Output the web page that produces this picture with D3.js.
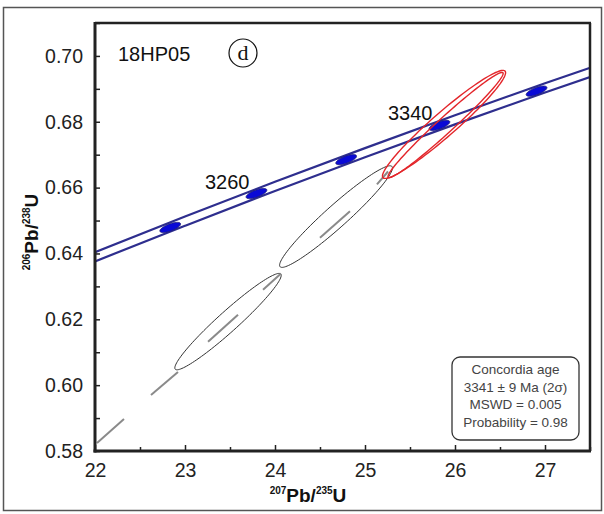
<!DOCTYPE html>
<html><head><meta charset="utf-8">
<script src="https://cdn.jsdelivr.net/npm/d3@7/dist/d3.min.js"></script>
<style>
html,body{margin:0;padding:0;background:#fff;}
svg{display:block;font-family:"Liberation Sans",Arial,sans-serif;}
</style></head>
<body>
<svg id="c" width="604" height="514"></svg>
<script>
// ---- data ----
const xTicks = [22, 23, 24, 25, 26, 27];
const yTicks = [0.58, 0.60, 0.62, 0.64, 0.66, 0.68, 0.70];
const bandX = [22, 23, 24, 25, 26, 27, 27.5];
const bandUpper = [0.6404, 0.6512, 0.6618, 0.6720, 0.6820, 0.6917, 0.6964];
const bandLower = [0.6376, 0.6484, 0.6590, 0.6692, 0.6792, 0.6889, 0.6936];
const markerAge = [3220, 3260, 3300, 3340, 3380];
const markerX = [22.836, 23.794, 24.791, 25.827, 26.906];
const markerY = [0.6479, 0.6582, 0.6685, 0.6789, 0.6893];
const markerErr = {hx: 0.115, hy: 0.00154, rho: 0.68};
const labelAges = [3260, 3340];
// data ellipses: center x, center y, half-extent x, half-extent y, correlation
const grayEllipses = [
  {x: 23.478, y: 0.6193, hx: 0.591, hy: 0.01464, rho: 0.960},
  {x: 24.678, y: 0.6512, hx: 0.627, hy: 0.01543, rho: 0.957}
];
const redEllipses = [
  {x: 25.878, y: 0.6792, hx: 0.684, hy: 0.01641, rho: 0.957},
  {x: 25.895, y: 0.6790, hx: 0.640, hy: 0.01600, rho: 0.980}
];
// gray reference segments [x1, y1, x2, y2]
const graySegments = [
  [22.022, 0.5824, 22.322, 0.5897],
  [22.622, 0.5970, 22.922, 0.6040],
  [23.256, 0.6132, 23.589, 0.6214],
  [23.867, 0.6290, 24.067, 0.6339],
  [24.500, 0.6448, 24.833, 0.6528],
  [25.133, 0.6610, 25.256, 0.6649]
];
const sampleName = "18HP05";
const panelTag = "d";
const legendLines = ["Concordia age", "3341 ± 9 Ma (2σ)", "MSWD = 0.005", "Probability = 0.98"];

// ---- layout ----
const svg = d3.select("#c");
const L = 95, R = 590, T = 23, B = 451;
const x = d3.scaleLinear().domain([22, 27.5]).range([L, R]);
const y = d3.scaleLinear().domain([0.58, 0.71]).range([B, T]);

// outer frame
svg.append("rect").attr("x", 3.5).attr("y", 7.5).attr("width", 598).attr("height", 503)
  .attr("fill", "none").attr("stroke", "#555").attr("stroke-width", 1.5);

svg.append("clipPath").attr("id", "pc").append("rect")
  .attr("x", L).attr("y", T).attr("width", R - L).attr("height", B - T);
const g = svg.append("g").attr("clip-path", "url(#pc)");

function ellipsePath(e) {
  const pts = d3.range(0, 121).map(i => {
    const t = i / 120 * 2 * Math.PI;
    const px = e.x + e.hx * Math.cos(t);
    const py = e.y + e.hy * (e.rho * Math.cos(t) + Math.sqrt(1 - e.rho * e.rho) * Math.sin(t));
    return [x(px), y(py)];
  });
  return d3.line()(pts) + "Z";
}

// concordia band
const bandLine = d3.line().curve(d3.curveMonotoneX);
[bandUpper, bandLower].forEach(arr => {
  g.append("path").attr("d", bandLine(bandX.map((v, i) => [x(v), y(arr[i])])))
    .attr("fill", "none").attr("stroke", "#2e2e8e").attr("stroke-width", 2.2);
});

// age markers
markerX.forEach((mx, i) => {
  g.append("path").attr("d", ellipsePath({x: mx, y: markerY[i], ...markerErr}))
    .attr("fill", "#0a0ad6").attr("stroke", "#202080").attr("stroke-width", 1);
});

// gray data ellipses
grayEllipses.forEach(e => {
  g.append("path").attr("d", ellipsePath(e)).attr("fill", "none")
    .attr("stroke", "#333").attr("stroke-width", 1);
});
// gray segments
graySegments.forEach(s => {
  g.append("line").attr("x1", x(s[0])).attr("y1", y(s[1])).attr("x2", x(s[2])).attr("y2", y(s[3]))
    .attr("stroke", "#8a8a8a").attr("stroke-width", 2);
});
// red ellipses
redEllipses.forEach(e => {
  g.append("path").attr("d", ellipsePath(e)).attr("fill", "none")
    .attr("stroke", "#e3262b").attr("stroke-width", 1.4);
});

// age labels
labelAges.forEach(a => {
  const i = markerAge.indexOf(a);
  svg.append("text").attr("x", x(markerX[i]) - 7).attr("y", y(markerY[i]) - 5)
    .attr("text-anchor", "end").attr("font-size", 20).attr("fill", "#111").text(a);
});

// axes frame
svg.append("line").attr("x1", L).attr("x2", R + 1).attr("y1", T).attr("y2", T).attr("stroke", "#222").attr("stroke-width", 2.5);
svg.append("line").attr("x1", R).attr("x2", R).attr("y1", T).attr("y2", B).attr("stroke", "#222").attr("stroke-width", 2.5);

const xAxis = d3.axisBottom(x).tickValues(d3.range(22, 27.51, 0.5)).tickSize(-5).tickPadding(12)
  .tickFormat(d => xTicks.includes(d) ? d : "");
const ax = svg.append("g").attr("transform", `translate(0,${B})`).call(xAxis);
ax.select(".domain").attr("stroke", "#222").attr("stroke-width", 3).attr("d", `M${L - 1.5},0H${R + 1}`);
ax.selectAll(".tick line").attr("stroke", "#222").attr("stroke-width", 1.5)
  .attr("y2", d => xTicks.includes(d) ? -6 : -4);
ax.selectAll(".tick text").attr("font-size", 19.5).attr("fill", "#222")
  .attr("font-family", "Liberation Sans, Arial, sans-serif");

const yAxis = d3.axisLeft(y).tickValues(d3.range(0, 14).map(i => 0.58 + i * 0.01).filter(v => v <= 0.7101))
  .tickSize(-5).tickPadding(12)
  .tickFormat(d => yTicks.some(t => Math.abs(t - d) < 1e-6) ? d3.format(".2f")(d) : "");
const ay = svg.append("g").attr("transform", `translate(${L},0)`).call(yAxis);
ay.select(".domain").attr("stroke", "#222").attr("stroke-width", 3).attr("d", `M0,${B + 1.5}V${T - 1}`);
ay.selectAll(".tick line").attr("stroke", "#222").attr("stroke-width", 1.5);
ay.selectAll(".tick text").attr("font-size", 19.5).attr("fill", "#222")
  .attr("font-family", "Liberation Sans, Arial, sans-serif");

// axis titles
const xt = svg.append("text").attr("x", 308).attr("y", 502).attr("text-anchor", "middle")
  .attr("font-weight", "bold").attr("font-size", 19).attr("fill", "#111");
xt.append("tspan").attr("font-size", 10).attr("dy", -8).text("207");
xt.append("tspan").attr("dy", 8).text("Pb/");
xt.append("tspan").attr("font-size", 10).attr("dy", -8).text("235");
xt.append("tspan").attr("dy", 8).text("U");

const yt = svg.append("text").attr("transform", "translate(38,232) rotate(-90)").attr("text-anchor", "middle")
  .attr("font-weight", "bold").attr("font-size", 19).attr("fill", "#111");
yt.append("tspan").attr("font-size", 10).attr("dy", -8).text("206");
yt.append("tspan").attr("dy", 8).text("Pb/");
yt.append("tspan").attr("font-size", 10).attr("dy", -8).text("238");
yt.append("tspan").attr("dy", 8).text("U");

// sample label and panel tag
svg.append("text").attr("x", 118).attr("y", 61).attr("font-size", 20).attr("fill", "#111").text(sampleName);
svg.append("circle").attr("cx", 243).attr("cy", 53).attr("r", 14).attr("fill", "none").attr("stroke", "#111").attr("stroke-width", 1.2);
svg.append("text").attr("x", 243).attr("y", 60).attr("text-anchor", "middle")
  .attr("font-family", "Liberation Serif, Times New Roman, serif").attr("font-size", 22).attr("fill", "#111").text(panelTag);

// legend box
svg.append("rect").attr("x", 452).attr("y", 357).attr("width", 127).attr("height", 83).attr("rx", 8)
  .attr("fill", "#fff").attr("stroke", "#333").attr("stroke-width", 1.3);
legendLines.forEach((s, i) => {
  svg.append("text").attr("x", 515.5).attr("y", 374 + i * 17.6).attr("text-anchor", "middle")
    .attr("font-size", 13.5).attr("fill", "#444").text(s);
});
</script>
</body></html>
